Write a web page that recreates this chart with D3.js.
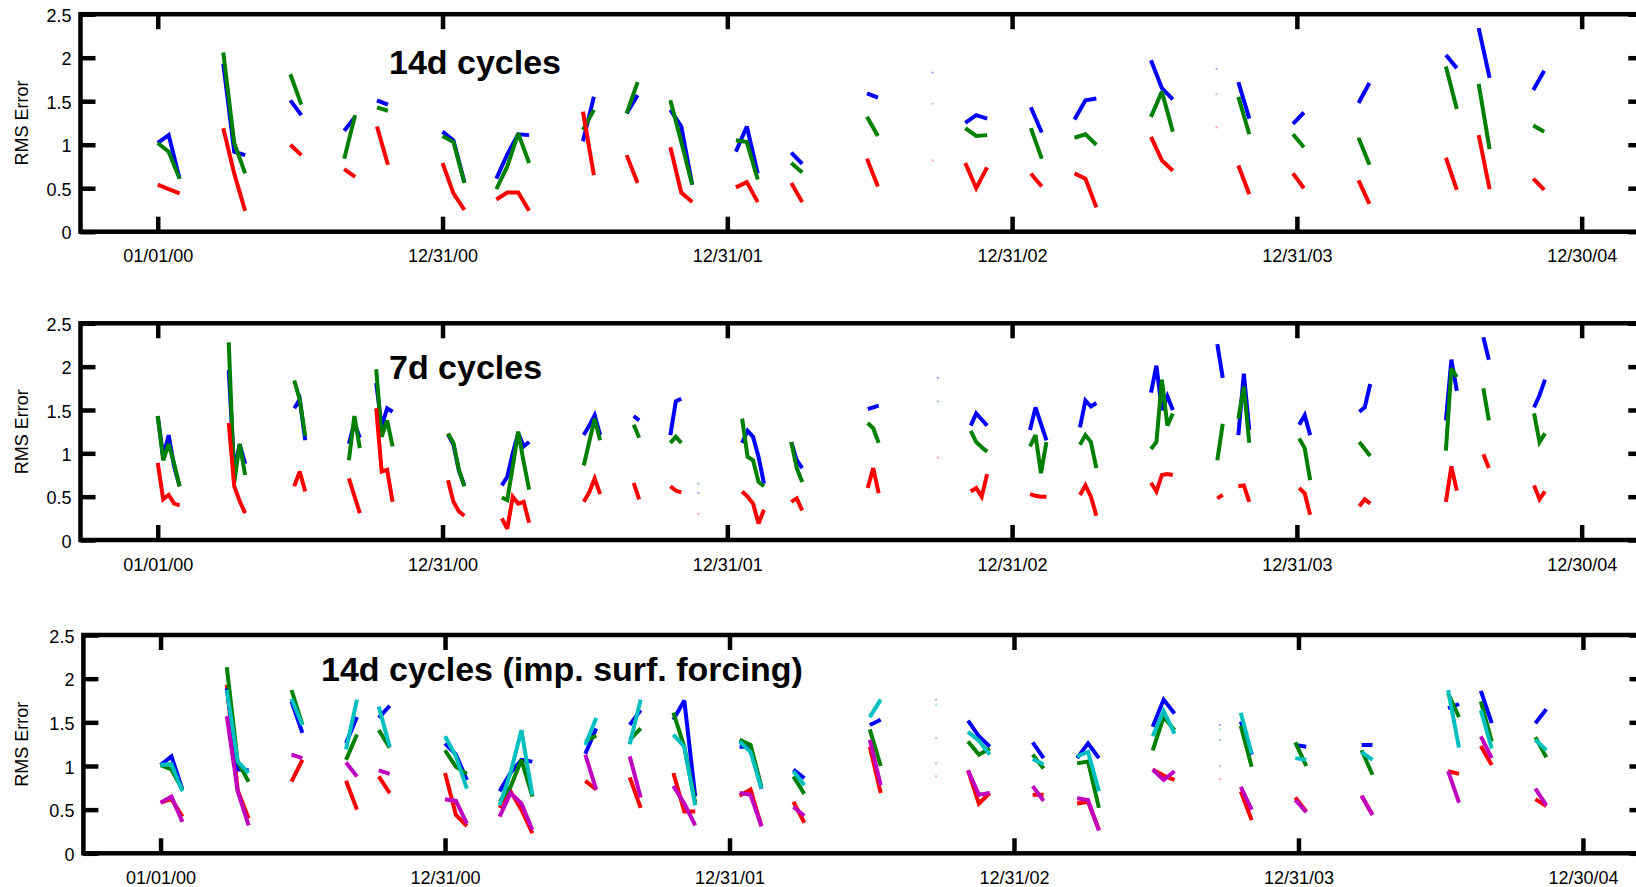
<!DOCTYPE html>
<html>
<head>
<meta charset="utf-8">
<script src="https://cdn.jsdelivr.net/npm/d3@7"></script>
<style>
  html, body { margin: 0; padding: 0; background: #fff; overflow: hidden; }
  svg { display: block; font-family: "Liberation Sans", Arial, Helvetica, sans-serif; }
</style>
</head>
<body>
<svg id="chart" width="1636" height="887"></svg>
<script>
// ---- axis definitions ----
const tickDates = ["2000-01-01", "2000-12-31", "2001-12-31", "2002-12-31", "2003-12-31", "2004-12-30"];
const yTicks = [0, 0.5, 1, 1.5, 2, 2.5];
const dayRange = [-99, 1904];          // x limits, days after 01/01/00
const titles = ["14d cycles", "7d cycles", "14d cycles (imp. surf. forcing)"];

// ---- 14-day assimilation cycles: start day of each cycle, values every 14 days ----
const c14Days  = [0, 84, 170, 239, 281, 365, 434, 545, 601, 657, 741, 812, 909, 993, 1035, 1119, 1175, 1273, 1357, 1385, 1455, 1539, 1651, 1693, 1763];
const c14Blue  = [[1.02,1.11,0.61],[1.93,0.92,0.88],[1.51,1.34],[1.16,1.32],[1.51,1.46],[1.15,1.05,0.57],[0.61,0.89,1.12,1.11],[1.04,1.55],[1.36,1.57],[1.40,1.21,0.54],[0.92,1.21,0.67],[0.91,0.78],[1.59,1.54],[1.83],[1.25,1.34,1.30],[1.43,1.14],[1.29,1.51,1.53],[1.97,1.65,1.52],[1.87],[1.72,1.30],[1.24,1.37],[1.48,1.71],[2.03,1.88],[2.34,1.77],[1.63,1.85]];
const c14Green = [[1.02,0.92,0.61],[2.06,1.02,0.67],[1.81,1.46],[0.84,1.34],[1.43,1.39],[1.10,1.03,0.56],[0.49,0.75,1.13,0.79],[1.17,1.40],[1.36,1.72],[1.51,1.03,0.54],[1.05,1.03,0.60],[0.79,0.68],[1.32,1.10],[1.47],[1.19,1.10,1.11],[1.19,0.84],[1.08,1.12,1.00],[1.32,1.61,1.15],[1.58],[1.55,1.12],[1.12,0.97],[1.08,0.77],[1.90,1.41],[1.70,0.95],[1.22,1.15]];
const c14Red   = [[0.54,0.49,0.44],[1.19,0.67,0.24],[1.00,0.88],[0.72,0.63],[1.21,0.77],[0.79,0.44,0.25],[0.37,0.45,0.45,0.24],[1.38,0.65],[0.88,0.56],[0.97,0.45,0.34],[0.51,0.57,0.34],[0.56,0.34],[0.84,0.52],[0.82],[0.79,0.50,0.74],[0.67,0.52],[0.67,0.61,0.28],[1.09,0.82,0.70],[1.20],[0.76,0.43],[0.67,0.50],[0.59,0.32],[0.85,0.48],[1.11,0.49],[0.61,0.48]];

// ---- 7-day assimilation cycles: values every 7 days ----
const c7Days  = [0, 91, 175, 245, 280, 372, 441, 546, 610, 657, 693, 749, 812, 910, 1000, 1042, 1118, 1182, 1273, 1358, 1385, 1463, 1540, 1651, 1699, 1764];
const c7Blue  = [[1.43,0.96,1.21,0.85,0.62],[1.96,0.81,1.10,0.88],[1.52,1.62,1.15],[1.11,1.35,1.18],[1.81,1.31,1.52,1.48],[1.22,1.10,0.80,0.63],[0.63,0.73,1.00,1.23,1.08,1.13],[1.21,1.32,1.44,1.21],[1.43,1.38],[1.21,1.60,1.63],[0.54],[1.12,1.26,1.19,0.96,0.65],[1.13,0.92,0.83],[1.51,1.53,1.55],[1.87],[1.32,1.46,1.39,1.32],[1.27,1.53,1.34,1.15],[1.30,1.61,1.54,1.58],[1.70,2.01,1.50,1.66,1.50],[2.26,1.87],[1.21,1.92,1.27],[1.33,1.44,1.21],[1.48,1.53,1.80],[1.38,2.08,1.72],[2.34,2.08],[1.53,1.67,1.85]];
const c7Green = [[1.43,0.92,1.11,0.88,0.62],[2.28,0.66,1.11,0.75],[1.84,1.62,1.20],[0.92,1.43,1.06],[1.97,1.19,1.38,1.08],[1.23,1.12,0.81,0.62],[0.49,0.46,0.85,1.25,0.90,0.58],[0.86,1.13,1.40,1.15],[1.33,1.18],[1.12,1.19,1.12],[0.65],[1.40,0.96,0.92,0.67,0.62],[1.13,0.83,0.67],[1.35,1.29,1.12],[1.60],[1.26,1.13,1.07,1.02],[1.08,1.21,0.77,1.13],[1.10,1.21,1.13,0.83],[1.05,1.13,1.85,1.32,1.46],[0.92,1.34],[1.40,1.77,1.12],[1.17,1.06,0.69],[1.13,1.05,0.97],[1.03,1.98,1.88],[1.75,1.38],[1.46,1.13,1.23]];
const c7Red   = [[0.89,0.47,0.52,0.42,0.40],[1.35,0.62,0.45,0.31],[0.62,0.79,0.56],[0.71,0.51,0.31],[1.52,0.79,0.81,0.44],[0.69,0.44,0.33,0.28],[0.25,0.13,0.50,0.42,0.44,0.20],[0.44,0.55,0.71,0.53],[0.66,0.47],[0.62,0.57,0.55],[0.30],[0.56,0.50,0.42,0.19,0.35],[0.44,0.48,0.34],[0.60,0.83,0.54],[0.95],[0.56,0.60,0.50,0.76],[0.53,0.51,0.50,0.50],[0.52,0.63,0.50,0.28],[0.66,0.56,0.75,0.76,0.75],[0.48,0.52],[0.62,0.63,0.44],[0.60,0.54,0.29],[0.39,0.47,0.42],[0.44,0.85,0.57],[0.99,0.83],[0.63,0.47,0.56]];

// ---- 14-day cycles with improved surface forcing ----
const cfDays    = [0, 85, 168, 238, 280, 365, 435, 545, 602, 658, 743, 812, 910, 995, 1036, 1119, 1176, 1273, 1359, 1386, 1456, 1541, 1652, 1694, 1764];
const cfBlue    = [[1.01,1.11,0.73],[1.89,0.96,0.95],[1.74,1.38],[1.26,1.56],[1.55,1.69],[1.26,1.13,0.84],[0.71,0.92,1.07,1.05],[1.14,1.43],[1.47,1.64],[1.53,1.75,0.65],[1.22,1.22,0.74],[0.96,0.86],[1.47,1.53],[1.76],[1.52,1.34,1.22],[1.27,1.09],[1.09,1.26,1.09],[1.45,1.76,1.60],[1.47],[1.51,1.13],[1.24,1.22],[1.24,1.24],[1.66,1.71],[1.86,1.49],[1.49,1.65]];
const cfGreen   = [[1.01,0.96,0.73],[2.13,1.05,0.82],[1.87,1.47],[1.07,1.36],[1.41,1.21],[1.18,0.99,0.91],[0.59,0.76,1.07,0.65],[1.28,1.35],[1.30,1.43],[1.61,1.22,0.58],[1.30,1.24,0.76],[0.88,0.68],[1.42,1.00],[1.32],[1.28,1.13,1.20],[1.13,0.97],[1.03,1.05,0.52],[1.18,1.56,1.41],[1.30],[1.46,0.99],[1.27,1.00],[1.18,0.90],[1.83,1.56],[1.74,1.28],[1.33,1.10]];
const cfRed     = [[0.58,0.62,0.42],[1.93,0.72,0.40],[0.82,1.07],[0.83,0.50],[0.88,0.69],[0.92,0.44,0.31],[0.52,0.71,0.50,0.23],[0.83,0.73],[0.87,0.52],[0.92,0.48,0.48],[0.66,0.73,0.31],[0.59,0.35],[1.22,0.69],[0.88],[0.95,0.57,0.69],[0.67,0.67],[0.57,0.59,0.27],[0.96,0.89,0.84],[0.85],[0.71,0.38],[0.64,0.48],[0.66,0.44],[0.94,0.91],[1.23,1.01],[0.62,0.54]];
const cfCyan    = [[1.01,1.02,0.71],[1.87,1.05,0.92],[1.77,1.47],[1.19,1.76],[1.68,1.22],[1.34,1.11,0.74],[0.55,0.92,1.41,0.67],[1.24,1.55],[1.25,1.76],[1.36,1.22,0.55],[1.28,1.16,0.74],[0.94,0.78],[1.56,1.76],[1.70],[1.39,1.29,1.13],[1.08,1.02],[1.11,1.16,0.71],[1.34,1.63,1.37],[1.42],[1.61,1.14],[1.09,1.07],[1.16,1.07],[1.87,1.21],[1.64,1.20],[1.30,1.18]];
const cfMagenta = [[0.58,0.65,0.36],[1.57,0.71,0.32],[1.13,1.09],[1.04,0.88],[0.95,0.91],[0.62,0.60,0.34],[0.42,0.69,0.57,0.27],[1.13,0.73],[1.11,0.64],[0.77,0.57,0.32],[0.69,0.67,0.31],[0.53,0.43],[1.30,0.78],[1.03],[0.95,0.67,0.69],[0.77,0.60],[0.63,0.61,0.26],[0.96,0.84,0.94],[1.00],[0.76,0.50],[0.61,0.47],[0.66,0.44],[0.94,0.58],[1.34,1.09],[0.74,0.55]];

const colors = { blue: "#0000ff", green: "#008000", red: "#ff0000", cyan: "#00bfbf", magenta: "#bf00bf" };

// ---- panel layout (pixels); series listed in drawing order ----
const panels = [
  { left: 80.5, right: 1643.3, top: 14.2,  bottom: 231.7, step: 14, days: c14Days,
    series: [["blue", c14Blue], ["green", c14Green], ["red", c14Red]] },
  { left: 80.5, right: 1643.3, top: 323.3, bottom: 540.0, step: 7, days: c7Days,
    series: [["blue", c7Blue], ["green", c7Green], ["red", c7Red]] },
  { left: 83.4, right: 1644.5, top: 635.0, bottom: 853.3, step: 14, days: cfDays,
    series: [["red", cfRed], ["blue", cfBlue], ["green", cfGreen], ["cyan", cfCyan], ["magenta", cfMagenta]] }
];
const titlePos = [[389, 74], [389, 379], [321, 681]];

const svg = d3.select("#chart");
const t0 = Date.UTC(2000, 0, 1);
const toDate = d => new Date(t0 + d * 864e5);
const parse = d3.utcParse("%Y-%m-%d");
const tickVals = tickDates.map(parse);
const fmt = d3.utcFormat("%m/%d/%y");

panels.forEach((p, i) => {
  const x = d3.scaleUtc().domain(dayRange.map(toDate)).range([p.left, p.right]);
  const y = d3.scaleLinear().domain([0, 2.5]).range([p.bottom, p.top]);
  const g = svg.append("g");

  // data: one polyline per cycle
  const line = d3.line().x(d => x(toDate(d[0]))).y(d => y(d[1]));
  p.series.forEach(([name, cycles]) => {
    const sg = g.append("g");
    cycles.forEach((vals, k) => {
      const pts = vals.map((v, j) => [p.days[k] + j * p.step, v]);
      if (pts.length > 1) {
        sg.append("path").attr("d", line(pts))
          .attr("fill", "none").attr("stroke", colors[name])
          .attr("stroke-width", 4).attr("stroke-linejoin", "miter")
          .attr("stroke-miterlimit", 3).attr("stroke-linecap", "butt");
      } else {
        sg.append("circle").attr("cx", x(toDate(pts[0][0]))).attr("cy", y(pts[0][1]))
          .attr("r", 1.1).attr("fill", colors[name]).attr("opacity", 0.4);
      }
    });
  });

  // axes (ticks pointing into the box)
  const styleAxis = sel => {
    sel.select(".domain").remove();
    sel.selectAll(".tick line").attr("stroke", "#000").attr("stroke-width", 4.5);
    sel.selectAll("text").attr("fill", "#000").attr("font-size", 18)
      .attr("font-family", "'Liberation Sans', Arial, Helvetica, sans-serif");
  };
  g.append("g").attr("transform", `translate(0,${p.bottom})`)
    .call(d3.axisBottom(x).tickValues(tickVals).tickFormat(fmt).tickSizeInner(-15).tickSizeOuter(0).tickPadding(18))
    .call(styleAxis);
  g.append("g").attr("transform", `translate(0,${p.top})`)
    .call(d3.axisTop(x).tickValues(tickVals).tickFormat(() => "").tickSizeInner(-15).tickSizeOuter(0))
    .call(styleAxis);
  g.append("g").attr("transform", `translate(${p.left},0)`)
    .call(d3.axisLeft(y).tickValues(yTicks).tickFormat(d3.format("")).tickSizeInner(-15).tickSizeOuter(0).tickPadding(9))
    .call(styleAxis)
    .call(s => s.selectAll("text").attr("dy", "0.4em"));
  g.append("g").attr("transform", `translate(${p.right},0)`)
    .call(d3.axisRight(y).tickValues(yTicks).tickFormat(() => "").tickSizeInner(-15).tickSizeOuter(0))
    .call(styleAxis);

  // box
  g.append("rect").attr("x", p.left).attr("y", p.top)
    .attr("width", p.right - p.left).attr("height", p.bottom - p.top)
    .attr("fill", "none").attr("stroke", "#000").attr("stroke-width", 4.5);

  // y label
  g.append("text")
    .attr("transform", `translate(28,${(p.top + p.bottom) / 2}) rotate(-90)`)
    .attr("text-anchor", "middle").attr("font-size", 18).attr("fill", "#000")
    .text("RMS Error");

  // panel title
  g.append("text").attr("x", titlePos[i][0]).attr("y", titlePos[i][1])
    .attr("font-size", 34).attr("font-weight", "bold").attr("fill", "#000")
    .text(titles[i]);
});
</script>
</body>
</html>
